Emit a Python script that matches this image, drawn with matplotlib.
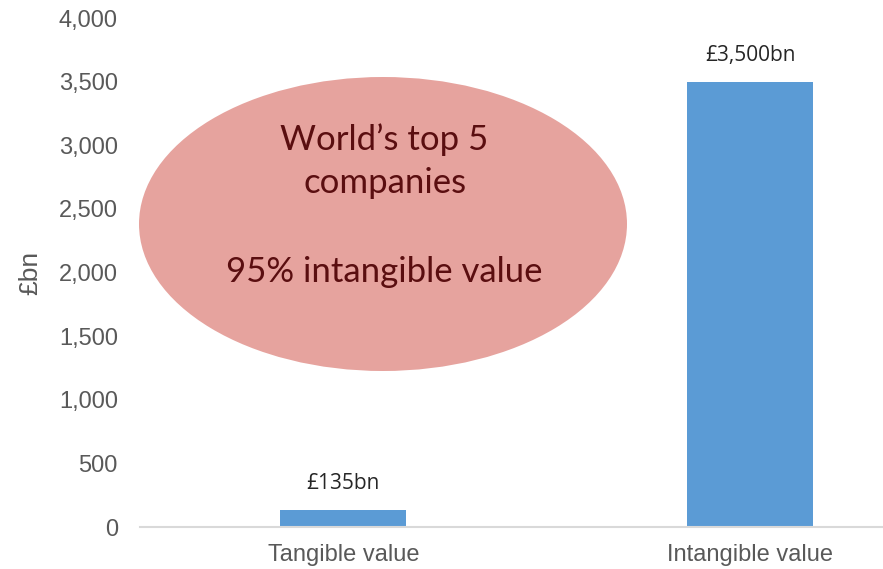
import matplotlib
matplotlib.use("Agg")
import matplotlib.pyplot as plt
from matplotlib.patches import Ellipse
from matplotlib.ticker import FuncFormatter

categories = ["Tangible value", "Intangible value"]
values = [135, 3500]
value_labels = ["£135bn", "£3,500bn"]
yticks = [0, 500, 1000, 1500, 2000, 2500, 3000, 3500, 4000]

W, H = 883, 569
fig = plt.figure(figsize=(W / 100, H / 100), dpi=100)
fig.patch.set_facecolor("white")

left_px, right_px = 140, 953.5
bot_px, top_px = 527, 18
ax = fig.add_axes([left_px / W, (H - bot_px) / H, (right_px - left_px) / W, (bot_px - top_px) / H])

x = list(range(len(categories)))
ax.bar(x, values, width=0.31, color="#5B9BD5", zorder=2)
ax.set_xlim(-0.5, 1.5)
ax.set_ylim(0, 4000)
ax.set_yticks(yticks)
ax.yaxis.set_major_formatter(FuncFormatter(lambda v, p: f"{int(v):,}"))
ax.set_xticks(x)
ax.set_xticklabels(categories)

for s in ["top", "right", "left"]:
    ax.spines[s].set_visible(False)
ax.spines["bottom"].set_color("#D9D9D9")
ax.spines["bottom"].set_linewidth(1.5)
ax.tick_params(axis="both", length=0, colors="#595959", labelsize=17)
ax.tick_params(axis="y", pad=16)
ax.tick_params(axis="x", pad=12)
for lab in ax.get_xticklabels() + ax.get_yticklabels():
    lab.set_family("Liberation Sans")

ax.set_ylabel("£bn", fontsize=19, color="#595959", family="Liberation Sans")
ax.yaxis.set_label_coords(-98 / (right_px - left_px), 0.5)

for xi, v, lab in zip(x, values, value_labels):
    ax.annotate(lab, (xi, v), xytext=(0, 19), textcoords="offset points",
                ha="center", va="center", fontsize=15, color="#262626", family="Open Sans")

# Callout ellipse
ell = Ellipse((383 / W, (H - 224) / H), 488 / W, 294 / H, transform=fig.transFigure,
              facecolor="#E6A39E", edgecolor="none", zorder=5)
fig.patches.append(ell)
tc = "#5A0E10"
fig.text(384 / W, (H - 140) / H, "World\u2019s top 5", ha="center", va="center",
         fontsize=25, color=tc, family="Lato", zorder=6)
fig.text(385 / W, (H - 183) / H, "companies", ha="center", va="center",
         fontsize=25, color=tc, family="Lato", zorder=6)
fig.text(384 / W, (H - 272) / H, "95% intangible value", ha="center", va="center",
         fontsize=25, color=tc, family="Lato", zorder=6)

fig.savefig("out.png", dpi=100)
